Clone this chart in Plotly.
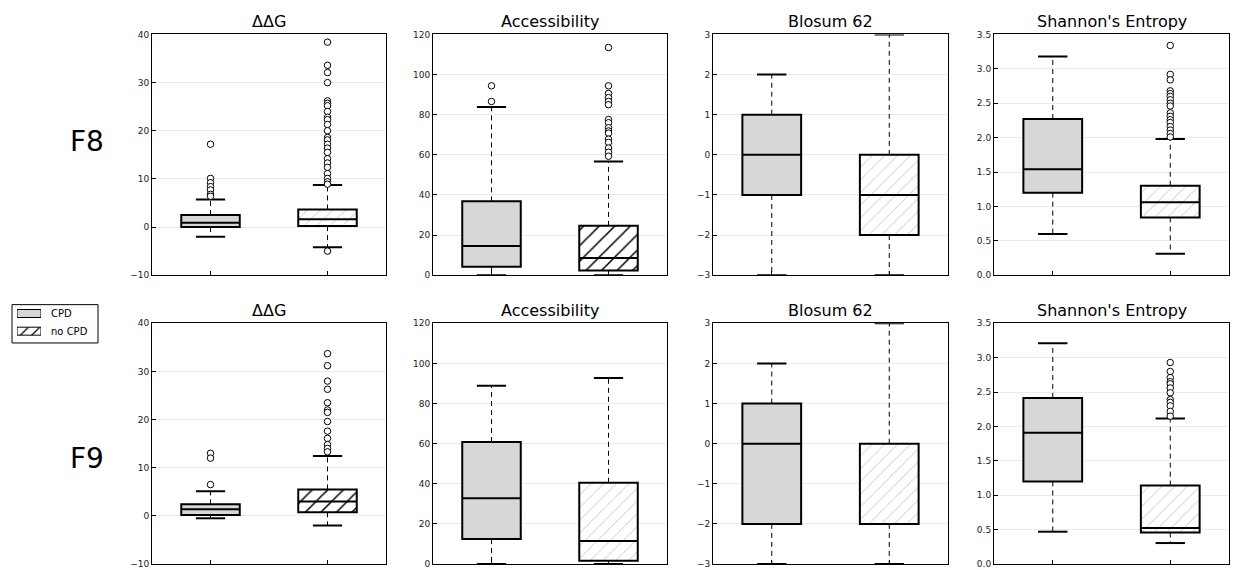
import plotly.graph_objects as go

# ---- panel layout -------------------------------------------------------
metrics = ["\u0394\u0394G", "Accessibility", "Blosum 62", "Shannon's Entropy"]
rows = ["F8", "F9"]
groups = ["CPD", "no CPD"]
group_pos = [1, 2]

y_ranges = [[-10, 40], [0, 120], [-3, 3], [0, 3.5]]
y_dticks = [10, 20, 1, 0.5]
y_formats = ["d", "d", "d", ".1f"]

# ---- box statistics per metric (ΔΔG, Accessibility, Blosum 62, Entropy) --
f8_cpd_lo = [-2.0, 0.0, -3, 0.60]
f8_cpd_q1 = [0.0, 4.2, -1, 1.20]
f8_cpd_med = [0.9, 14.5, 0, 1.54]
f8_cpd_q3 = [2.5, 36.8, 1, 2.27]
f8_cpd_hi = [5.7, 83.8, 2, 3.18]

f8_nocpd_lo = [-4.2, 0.0, -3, 0.31]
f8_nocpd_q1 = [0.2, 2.3, -2, 0.84]
f8_nocpd_med = [1.6, 8.5, -1, 1.06]
f8_nocpd_q3 = [3.65, 24.6, 0, 1.30]
f8_nocpd_hi = [8.75, 56.7, 3, 1.98]

f9_cpd_lo = [-0.5, 0.0, -3, 0.47]
f9_cpd_q1 = [0.2, 12.5, -2, 1.20]
f9_cpd_med = [1.4, 32.8, 0, 1.91]
f9_cpd_q3 = [2.4, 60.8, 1, 2.415]
f9_cpd_hi = [5.1, 88.9, 2, 3.21]

f9_nocpd_lo = [-2.0, 0.0, -3, 0.305]
f9_nocpd_q1 = [0.75, 1.6, -2, 0.46]
f9_nocpd_med = [3.0, 11.5, -2, 0.525]
f9_nocpd_q3 = [5.5, 40.5, 0, 1.14]
f9_nocpd_hi = [12.45, 92.8, 3, 2.115]

# ---- outliers ---------------------------------------------------------------
f8_ddg_out_cpd = [17.2, 10.1, 9.2, 8.4, 7.7, 6.8, 6.4]
f8_ddg_out_nocpd = [38.4, 33.6, 32.1, 30.0, 26.2, 25.7, 25.2, 24.0, 22.8, 22.3,
                    21.3, 20.0, 18.6, 18.1, 17.2, 16.4, 15.5, 14.2, 13.3, 12.4,
                    11.1, 10.1, 9.4, 8.9, -5.0]
f8_acc_out_cpd = [94.4, 86.6]
f8_acc_out_nocpd = [113.5, 94.4, 90.6, 88.5, 86.6, 85.0, 77.6, 76.0, 73.5, 71.9,
                    70.8, 67.8, 66.2, 63.4, 61.3, 59.3]
f8_blo_out_cpd = []
f8_blo_out_nocpd = []
f8_ent_out_cpd = []
f8_ent_out_nocpd = [3.34, 2.92, 2.84, 2.68, 2.64, 2.60, 2.55, 2.50, 2.46, 2.36,
                    2.31, 2.26, 2.22, 2.16, 2.11, 2.06, 2.01]

f9_ddg_out_cpd = [13.0, 12.0, 6.5]
f9_ddg_out_nocpd = [33.7, 31.2, 28.0, 26.3, 23.5, 22.0, 21.5, 19.6, 17.6, 16.1,
                    14.8, 14.0, 13.3]
f9_acc_out_cpd = []
f9_acc_out_nocpd = []
f9_blo_out_cpd = []
f9_blo_out_nocpd = []
f9_ent_out_cpd = []
f9_ent_out_nocpd = [2.93, 2.80, 2.71, 2.65, 2.62, 2.56, 2.49, 2.39, 2.35, 2.30,
                    2.22, 2.15]

stats = {
    ("F8", "CPD"): (f8_cpd_lo, f8_cpd_q1, f8_cpd_med, f8_cpd_q3, f8_cpd_hi,
                    [f8_ddg_out_cpd, f8_acc_out_cpd, f8_blo_out_cpd, f8_ent_out_cpd]),
    ("F8", "no CPD"): (f8_nocpd_lo, f8_nocpd_q1, f8_nocpd_med, f8_nocpd_q3, f8_nocpd_hi,
                       [f8_ddg_out_nocpd, f8_acc_out_nocpd, f8_blo_out_nocpd, f8_ent_out_nocpd]),
    ("F9", "CPD"): (f9_cpd_lo, f9_cpd_q1, f9_cpd_med, f9_cpd_q3, f9_cpd_hi,
                    [f9_ddg_out_cpd, f9_acc_out_cpd, f9_blo_out_cpd, f9_ent_out_cpd]),
    ("F9", "no CPD"): (f9_nocpd_lo, f9_nocpd_q1, f9_nocpd_med, f9_nocpd_q3, f9_nocpd_hi,
                       [f9_ddg_out_nocpd, f9_acc_out_nocpd, f9_blo_out_nocpd, f9_ent_out_nocpd]),
}

# ---- styling ----------------------------------------------------------------
W, H = 1236, 570
FONT = "DejaVu Sans"
GRAY = "#d6d7d9"
BOX_W = 0.5
CAP_W = 0.25
# hatch ink for the "no CPD" boxes, per row and metric
hatch_ink = {"F8": ["#c4c4c4", "#000000", "#c4c4c4", "#c4c4c4"],
             "F9": ["#000000", "#c4c4c4", "#c4c4c4", "#c4c4c4"]}

col_px = [(152, 386), (433, 667), (713, 948), (994, 1229)]
row_px = [(30, 275), (324, 569)]


def fx(p):
    return p / W


def fy(p):
    return 1 - p / H


fig = go.Figure()
layout = dict(width=W, height=H, margin=dict(l=0, r=0, t=0, b=0),
              paper_bgcolor="white", plot_bgcolor="white",
              showlegend=False, barmode="overlay",
              font=dict(family=FONT, color="#222"))
annotations = []
shapes = []

for r, row in enumerate(rows):
    for c, metric in enumerate(metrics):
        k = r * 4 + c + 1
        xname = "x" if k == 1 else f"x{k}"
        yname = "y" if k == 1 else f"y{k}"
        xa = "xaxis" if k == 1 else f"xaxis{k}"
        ya = "yaxis" if k == 1 else f"yaxis{k}"
        x0, x1 = col_px[c]
        y0, y1 = row_px[r]
        layout[xa] = dict(domain=[fx(x0), fx(x1)], anchor=yname, range=[0.5, 2.5],
                          tickvals=group_pos, ticktext=["", ""], ticks="inside",
                          ticklen=4, tickcolor="black", showgrid=False, zeroline=False,
                          showline=True, linecolor="black", linewidth=1, mirror=True)
        layout[ya] = dict(domain=[fy(y1), fy(y0)], anchor=xname, range=y_ranges[c],
                          dtick=y_dticks[c], tick0=y_ranges[c][0], tickformat=y_formats[c],
                          ticks="inside", ticklen=4, tickcolor="black",
                          tickfont=dict(size=9, color="#222"),
                          showgrid=True, gridcolor="#ebebeb", gridwidth=1, zeroline=False,
                          showline=True, linecolor="black", linewidth=1, mirror=True)

        for g, grp in enumerate(groups):
            lo, q1, med, q3, hi, outs = stats[(row, grp)]
            xp = group_pos[g]
            common = dict(xaxis=xname, yaxis=yname, hoverinfo="skip")
            if grp == "CPD":
                marker = dict(color=GRAY, line=dict(color="black", width=2))
            else:
                ink = hatch_ink[row][c]
                dense = ink == "#000000"
                marker = dict(color="white", line=dict(color="black", width=2),
                              pattern=dict(shape="/", fgcolor=ink, bgcolor="white",
                                           fgopacity=1,
                                           size=11 if dense else 9,
                                           solidity=0.14 if dense else 0.1))
            # box body
            fig.add_trace(go.Bar(x=[xp], y=[q3[c] - q1[c]], base=[q1[c]], width=BOX_W,
                                 marker=marker, **common))
            # whiskers
            for a, b in ((q3[c], hi[c]), (q1[c], lo[c])):
                fig.add_trace(go.Scatter(x=[xp, xp], y=[a, b], mode="lines",
                                         line=dict(color="black", width=1, dash="5px,4px"),
                                         **common))
            # caps
            for v in (hi[c], lo[c]):
                fig.add_trace(go.Scatter(x=[xp - CAP_W / 2, xp + CAP_W / 2], y=[v, v],
                                         mode="lines", line=dict(color="black", width=2),
                                         **common))
            # median
            fig.add_trace(go.Scatter(x=[xp - BOX_W / 2, xp + BOX_W / 2], y=[med[c], med[c]],
                                     mode="lines", line=dict(color="black", width=2),
                                     **common))
            # fliers
            if outs[c]:
                fig.add_trace(go.Scatter(x=[xp] * len(outs[c]), y=outs[c], mode="markers",
                                         marker=dict(symbol="circle", size=6.5, color="white",
                                                     line=dict(color="black", width=1)),
                                         cliponaxis=False, **common))

        annotations.append(dict(text=metric, x=fx((x0 + x1) / 2), y=fy(y0 - 13),
                                xref="paper", yref="paper", xanchor="center",
                                yanchor="middle", showarrow=False,
                                font=dict(size=16, family=FONT, color="black")))

# row labels
for r, row in enumerate(rows):
    cy = [139, 462][r]
    annotations.append(dict(text=row, x=fx(87), y=fy(cy), xref="paper", yref="paper",
                            xanchor="center", yanchor="middle", showarrow=False,
                            font=dict(size=28, family=FONT, color="black")))

# legend: swatches drawn on a small dedicated axis
layout["xaxis9"] = dict(domain=[fx(17), fx(41)], anchor="y9", range=[0, 1],
                        visible=False, fixedrange=True)
layout["yaxis9"] = dict(domain=[fy(341), fy(305)], anchor="x9", range=[-0.5, 1.5],
                        visible=False, fixedrange=True)
fig.add_trace(go.Bar(x=[1], y=[1], orientation="h", width=0.45, xaxis="x9", yaxis="y9",
                     marker=dict(color=GRAY, line=dict(color="black", width=1)),
                     hoverinfo="skip"))
fig.add_trace(go.Bar(x=[1], y=[0], orientation="h", width=0.45, xaxis="x9", yaxis="y9",
                     marker=dict(color="white", line=dict(color="black", width=1),
                                 pattern=dict(shape="/", fgcolor="black", bgcolor="white",
                                              fgopacity=1, size=8, solidity=0.15)),
                     hoverinfo="skip"))
for label, cy in zip(groups, [314, 332]):
    annotations.append(dict(text=label, x=fx(49), y=fy(cy), xref="paper", yref="paper",
                            xanchor="left", yanchor="middle", showarrow=False,
                            font=dict(size=10, family=FONT, color="black")))
shapes.append(dict(type="rect", xref="paper", yref="paper", x0=fx(12), x1=fx(98),
                   y0=fy(344), y1=fy(305), line=dict(color="black", width=1),
                   fillcolor="rgba(0,0,0,0)"))

layout["annotations"] = annotations
layout["shapes"] = shapes
fig.update_layout(**layout)
fig.write_html("out.html")
